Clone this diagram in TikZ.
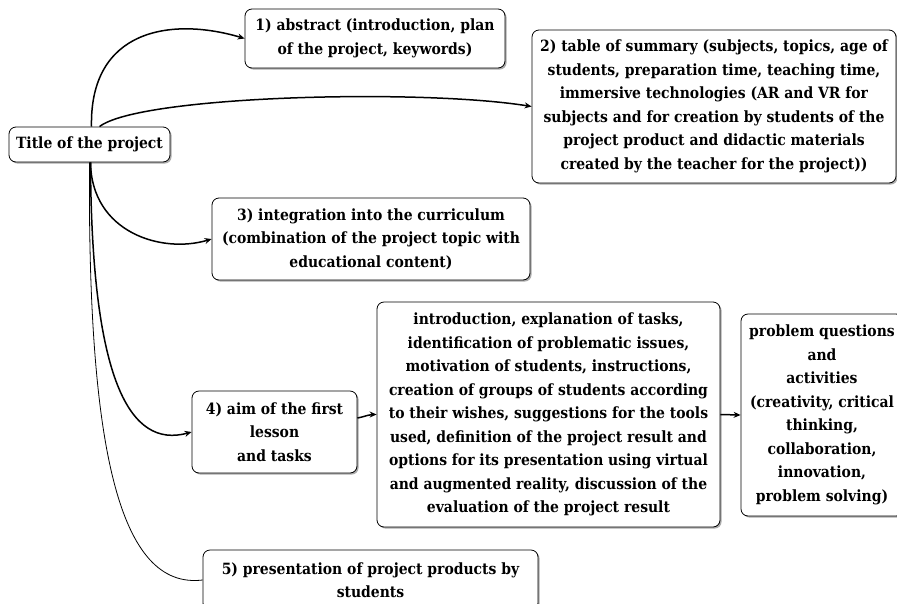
\documentclass[tikz,border=0pt]{standalone}
\usepackage{fontspec}
\setmainfont{DejaVu Serif Condensed}
\usetikzlibrary{arrows.meta,shadows}
\begin{document}
\begin{tikzpicture}[x=1pt,y=-1pt,
  box/.style={draw=black,line width=0.8pt,rounded corners=7pt,fill=white,
    align=center,inner sep=0pt,
    font=\fontsize{15.5}{23.5}\selectfont\bfseries,
    drop shadow={shadow xshift=1.6pt,shadow yshift=-1.6pt,fill=black!60,opacity=0.55}},
  link/.style={line width=1.5pt,-{Stealth[length=7pt,width=6pt]}},
  thinlink/.style={line width=0.8pt}]
\useasboundingbox (0,0) rectangle (897,603);

\node[box,minimum width=161pt,minimum height=35pt] (title) at (89.5,144.5) {Title of the project};
\node[box,minimum width=260pt,minimum height=59pt] (b1) at (375,38.5)
  {1) abstract (introduction, plan\\of the project, keywords)};
\node[box,minimum width=364pt,minimum height=153pt] (b2) at (714,106.5)
  {2) table of summary (subjects, topics, age of\\students, preparation time, teaching time,\\immersive technologies (AR and VR for\\subjects and for creation by students of the\\project product and didactic materials\\created by the teacher for the project))};
\node[box,minimum width=318pt,minimum height=82pt] (b3) at (371,239)
  {3) integration into the curriculum\\(combination of the project topic with\\educational content)};
\node[box,minimum width=165pt,minimum height=82pt] (b4) at (274.5,432)
  {4) aim of the first\\lesson\\and tasks};
\node[box,minimum width=343pt,minimum height=225pt] (b6) at (548.5,414.5)
  {introduction, explanation of tasks,\\identification of problematic issues,\\motivation of students, instructions,\\creation of groups of students according\\to their wishes, suggestions for the tools\\used, definition of the project result and\\options for its presentation using virtual\\and augmented reality, discussion of the\\evaluation of the project result};
\node[box,minimum width=162pt,minimum height=202pt] (b7) at (822,415)
  {problem questions\\and\\activities\\(creativity, critical\\thinking,\\collaboration,\\innovation,\\problem solving)};
\node[box,minimum width=335pt,minimum height=60pt] (b5) at (370.5,580)
  {5) presentation of project products by\\students};

\draw[link] ([xshift=2pt]title.north) .. controls +(-2,-97) and +(-74,-22) .. (b1.west);
\draw[link] ([xshift=10pt]title.north) .. controls +(40,-31) and +(-112,-18) .. (b2.west);
\draw[link] ([xshift=1pt]title.south) .. controls +(1,70) and +(-50,15) .. (b3.west);
\draw[link] ([xshift=1pt]title.south) .. controls +(1,218) and +(-62,17) .. (b4.west);
\draw[thinlink] (title.south) .. controls +(-2,288) and +(-83,10) .. (b5.west);
\draw[link] ([yshift=14pt]b4.east) .. controls +(10,-2) and +(-8,0) .. (b6.west);
\draw[link] (b6.east) -- (b7.west);
\end{tikzpicture}
\end{document}
